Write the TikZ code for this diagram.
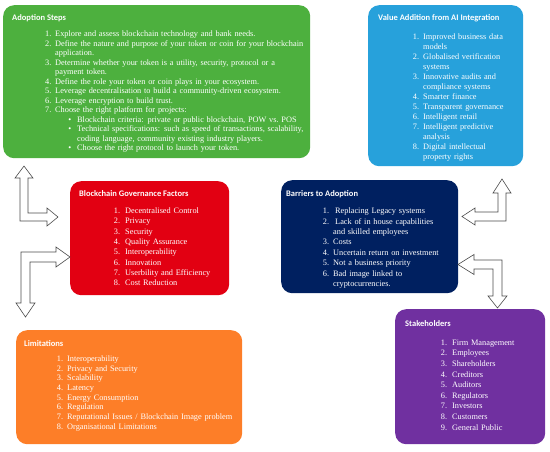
\documentclass[tikz,border=0pt]{standalone}
\usepackage{fontspec}
\setmainfont{Liberation Serif}
\newfontfamily\headfont{Carlito}
\usepackage{enumitem}
\usepackage{xcolor}
\usetikzlibrary{positioning}

\definecolor{adoptgreen}{RGB}{77,176,62}
\definecolor{valueblue}{RGB}{39,161,219}
\definecolor{govred}{RGB}{226,0,18}
\definecolor{barrnavy}{RGB}{0,32,96}
\definecolor{limitorange}{RGB}{253,126,40}
\definecolor{stakepurple}{RGB}{112,48,160}

\setlist{nosep}

\tikzset{
    panel/.style={rounded corners=11pt, anchor=north west, inner sep=0pt},
    paneltitle/.style={anchor=base west, inner sep=0pt, text=white,
        font=\headfont\bfseries\fontsize{8.5}{10}\selectfont},
    panellist/.style={anchor=north west, inner sep=0pt, text=white, align=left,
        font=\fontsize{8.3}{#1}\selectfont},
    blockarrow/.style={draw=black!70, fill=white, line width=0.6pt, line join=miter},
}

\begin{document}
\begin{tikzpicture}[x=1pt, y=-1pt]
    \useasboundingbox (0,0) rectangle (550,451);

    % Panels
    \node[panel, fill=adoptgreen, minimum width=307pt, minimum height=153pt] (adopt) at (3,5) {};
    \node[panel, fill=valueblue, minimum width=155pt, minimum height=161pt] (value) at (368,5) {};
    \node[panel, fill=govred, minimum width=159pt, minimum height=114pt] (gov) at (70,181) {};
    \node[panel, fill=barrnavy, minimum width=177pt, minimum height=113pt] (barr) at (281,180) {};
    \node[panel, fill=limitorange, minimum width=226pt, minimum height=114pt] (limit) at (16,330) {};
    \node[panel, fill=stakepurple, minimum width=150pt, minimum height=135pt] (stake) at (395,309) {};

    % Titles
    \node[paneltitle] (adoptT) at (12,20) {Adoption Steps};
    \node[paneltitle] (valueT) at (378,20) {Value Addition from AI Integration};
    \node[paneltitle] (govT) at (79,196) {Blockchain Governance Factors};
    \node[paneltitle] (barrT) at (286,196) {Barriers to Adoption};
    \node[paneltitle] (limitT) at (24,346) {Limitations};
    \node[paneltitle] (stakeT) at (405,326) {Stakeholders};

    % Adoption steps
    \node[panellist=9.5pt, text width=262pt] (adoptL) at (45,27) {%
        \begin{enumerate}[leftmargin=10pt, labelsep=3.8pt]
            \item Explore and assess blockchain technology and bank needs.
            \item Define the nature and purpose of your token or coin for your blockchain\\ application.
            \item Determine whether your token is a utility, security, protocol or a\\ payment token.
            \item Define the role your token or coin plays in your ecosystem.
            \item Leverage decentralisation to build a community-driven ecosystem.
            \item Leverage encryption to build trust.
            \item Choose the right platform for projects:
            \begin{itemize}[leftmargin=22pt, labelsep=6pt, label=\textbullet]
                \item Blockchain criteria: private or public blockchain, POW vs.\ POS
                \item Technical specifications: such as speed of transactions, scalability,\\ coding language, community existing industry players.
                \item Choose the right protocol to launch your token.
            \end{itemize}
        \end{enumerate}};

    % Value addition
    \node[panellist=10pt, text width=108pt] (valueL) at (412,29) {%
        \begin{enumerate}[leftmargin=11pt, labelsep=4pt]
            \item Improved business data\\ models
            \item Globalised verification\\ systems
            \item Innovative audits and\\ compliance systems
            \item Smarter finance
            \item Transparent governance
            \item Intelligent retail
            \item Intelligent predictive\\ analysis
            \item Digital intellectual\\ property rights
        \end{enumerate}};

    % Governance factors
    \node[panellist=10.3pt, text width=114pt] (govL) at (113,203) {%
        \begin{enumerate}[leftmargin=12pt, labelsep=5pt]
            \item Decentralised Control
            \item Privacy
            \item Security
            \item Quality Assurance
            \item Interoperability
            \item Innovation
            \item Userbility and Efficiency
            \item Cost Reduction
        \end{enumerate}};

    % Barriers
    \node[panellist=10.4pt, text width=134pt] (barrL) at (322,203) {%
        \begin{enumerate}[leftmargin=11pt, labelsep=4pt]
            \item \hspace{2pt}Replacing Legacy systems
            \item \hspace{2pt}Lack of in house capabilities\\ and skilled employees
            \item Costs
            \item Uncertain return on investment
            \item Not a business priority
            \item Bad image linked to\\ cryptocurrencies.
        \end{enumerate}};

    % Limitations
    \node[panellist=9.7pt, text width=180pt] (limitL) at (56,351.5) {%
        \begin{enumerate}[leftmargin=11pt, labelsep=4pt]
            \item Interoperability
            \item Privacy and Security
            \item Scalability
            \item Latency
            \item Energy Consumption
            \item Regulation
            \item Reputational Issues / Blockchain Image problem
            \item Organisational Limitations
        \end{enumerate}};

    % Stakeholders
    \node[panellist=10.6pt, text width=102pt] (stakeL) at (440,334.5) {%
        \begin{enumerate}[leftmargin=12pt, labelsep=5pt]
            \item Firm Management
            \item Employees
            \item Shareholders
            \item Creditors
            \item Auditors
            \item Regulators
            \item Investors
            \item Customers
            \item General Public
        \end{enumerate}};

    % Block arrows, left side
    \draw[blockarrow] (24,166) -- (33,178) -- (28,178) -- (28,213) -- (47,213) -- (47,208)
        -- (58,217) -- (47,226) -- (47,221) -- (20,221) -- (20,178) -- (15,178) -- cycle;
    \draw[blockarrow] (70,257) -- (56,247) -- (56,252) -- (21,252) -- (21,303) -- (16,303)
        -- (25.5,317) -- (35,303) -- (30,303) -- (30,262) -- (56,262) -- (56,267) -- cycle;

    % Block arrows, right side
    \draw[blockarrow] (502,179) -- (511,193) -- (506,193) -- (506,221) -- (475,221) -- (475,225)
        -- (462,216.5) -- (475,208) -- (475,212) -- (498,212) -- (498,193) -- (493,193) -- cycle;
    \draw[blockarrow] (458,264.5) -- (474,254.5) -- (474,260) -- (502,260) -- (502,296) -- (507,296)
        -- (497.5,308) -- (488,296) -- (493,296) -- (493,269) -- (474,269) -- (474,274.5) -- cycle;
\end{tikzpicture}
\end{document}
